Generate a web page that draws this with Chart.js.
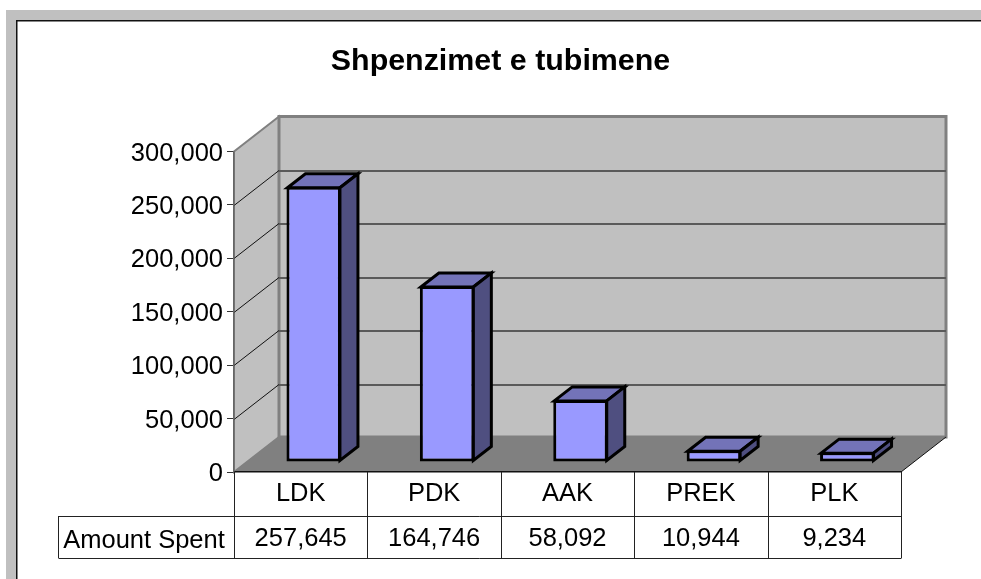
<!DOCTYPE html>
<html>
<head>
<meta charset="utf-8">
<title>Shpenzimet e tubimene</title>
<script src="https://cdn.jsdelivr.net/npm/chart.js@4/dist/chart.umd.min.js"></script>
<style>
  html, body { margin: 0; padding: 0; background: #fff; overflow: hidden; }
  #wrap { position: relative; width: 981px; height: 579px; }
</style>
</head>
<body>
<div id="wrap"><canvas id="chart" width="981" height="579"></canvas></div>
<script>
const chartTitle = 'Shpenzimet e tubimene';
const categories = ['LDK', 'PDK', 'AAK', 'PREK', 'PLK'];
const seriesName = 'Amount Spent';
const amountSpent = [257645, 164746, 58092, 10944, 9234];
const yMax = 300000;
const yStep = 50000;

const FONT = '"Liberation Sans", Arial, sans-serif';
const fmt = v => v.toLocaleString('en-US');

// depth of the fake 3d box, and of a bar inside it
const DEPTH_X = 45, DEPTH_Y = 35;
const BAR_SHIFT_X = 13, BAR_SHIFT_Y = 10;
const BAR_DEPTH_X = 18, BAR_DEPTH_Y = 14;

function poly(ctx, pts, fill, stroke, lw) {
  ctx.beginPath();
  pts.forEach((p, i) => i ? ctx.lineTo(p[0], p[1]) : ctx.moveTo(p[0], p[1]));
  ctx.closePath();
  if (fill) { ctx.fillStyle = fill; ctx.fill(); }
  if (stroke) { ctx.strokeStyle = stroke; ctx.lineWidth = lw; ctx.stroke(); }
}

const box3d = {
  id: 'box3d',
  beforeDraw(chart) {
    const { ctx, chartArea: a, scales: { y } } = chart;
    ctx.save();
    // page frame
    ctx.fillStyle = '#fff';
    ctx.fillRect(0, 0, chart.width, chart.height);
    ctx.fillStyle = '#c0c0c0';
    ctx.fillRect(6, 10, chart.width - 6, chart.height - 10);
    ctx.fillStyle = '#fff';
    ctx.fillRect(17, 21, chart.width - 17, chart.height - 21);
    ctx.fillStyle = '#111';
    ctx.fillRect(16, 20, chart.width - 16, 1.5);
    ctx.fillRect(16, 20, 1.5, chart.height - 20);

    const l = a.left, r = a.right, t = a.top, b = a.bottom;
    const dx = DEPTH_X, dy = DEPTH_Y;
    // side wall, back wall, floor
    poly(ctx, [[l, t], [l + dx, t - dy], [l + dx, b - dy], [l, b]], '#c0c0c0', '#808080', 2);
    poly(ctx, [[l + dx, t - dy], [r + dx, t - dy], [r + dx, b - dy], [l + dx, b - dy]], '#c0c0c0', '#808080', 3);

    // gridlines run along the side wall and across the back wall
    y.ticks.forEach(tick => {
      if (tick.value === 0 || tick.value === yMax) return;
      const py = Math.round(y.getPixelForValue(tick.value));
      ctx.strokeStyle = '#111';
      ctx.lineWidth = 1;
      ctx.beginPath();
      ctx.moveTo(l, py + 0.5);
      ctx.lineTo(l + dx, py + 0.5 - dy);
      ctx.stroke();
      ctx.strokeStyle = '#5a5a5a';
      ctx.lineWidth = 2;
      ctx.beginPath();
      ctx.moveTo(l + dx, py + 1 - dy);
      ctx.lineTo(r + dx, py + 1 - dy);
      ctx.stroke();
    });

    poly(ctx, [[l, b], [l + dx, b - dy], [r + dx, b - dy], [r, b]], '#808080');
    ctx.strokeStyle = '#111';
    ctx.lineWidth = 1;
    ctx.beginPath();
    ctx.moveTo(r, b);
    ctx.lineTo(r + dx, b - dy);
    ctx.stroke();
    ctx.restore();
  },
  beforeDatasetsDraw(chart) {
    const { ctx } = chart;
    ctx.save();
    ctx.translate(BAR_SHIFT_X, -BAR_SHIFT_Y);
    chart.getDatasetMeta(0).data.forEach(bar => {
      const p = bar.getProps(['x', 'y', 'base', 'width'], true);
      const l = p.x - p.width / 2 + 1, r = p.x + p.width / 2 - 1;
      const t = p.y + 1, b = p.base - 1;
      const dx = BAR_DEPTH_X, dy = BAR_DEPTH_Y;
      ctx.lineJoin = 'miter';
      poly(ctx, [[l, t], [l + dx, t - dy], [r + dx, t - dy], [r, t]], '#7373b8', '#000', 3);
      poly(ctx, [[r, t], [r + dx, t - dy], [r + dx, b - dy], [r, b]], '#4f4f80', '#000', 3);
    });
  },
  afterDatasetsDraw(chart) {
    chart.ctx.restore();
  },
  afterDraw(chart) {
    const { ctx, chartArea: a, scales: { x } } = chart;
    const rowMid = 516, rowEnd = 558, labelLeft = 58;
    const half = (x.getPixelForTick(1) - x.getPixelForTick(0)) / 2;
    ctx.save();
    ctx.strokeStyle = '#222';
    ctx.lineWidth = 1;
    ctx.beginPath();
    categories.forEach((c, i) => {
      const px = Math.round(x.getPixelForTick(i) - half) + 0.5;
      ctx.moveTo(px, a.bottom);
      ctx.lineTo(px, rowEnd);
    });
    ctx.moveTo(a.right + 0.5, a.bottom);
    ctx.lineTo(a.right + 0.5, rowEnd + 0.5);
    ctx.moveTo(labelLeft + 0.5, rowMid + 0.5);
    ctx.lineTo(a.right, rowMid + 0.5);
    ctx.moveTo(labelLeft + 0.5, rowEnd + 0.5);
    ctx.lineTo(a.right, rowEnd + 0.5);
    ctx.moveTo(labelLeft + 0.5, rowMid);
    ctx.lineTo(labelLeft + 0.5, rowEnd);
    ctx.stroke();

    ctx.fillStyle = '#000';
    ctx.font = '25.5px ' + FONT;
    ctx.textBaseline = 'middle';
    ctx.textAlign = 'center';
    amountSpent.forEach((v, i) => ctx.fillText(fmt(v), x.getPixelForTick(i), 539));
    ctx.fillText(seriesName, 144, 541);
    ctx.restore();
  }
};

new Chart(document.getElementById('chart'), {
  type: 'bar',
  data: {
    labels: categories,
    datasets: [{
      label: seriesName,
      data: amountSpent,
      backgroundColor: '#9999ff',
      borderColor: '#000',
      borderWidth: 3,
      borderSkipped: false,
      barPercentage: 0.4085,
      categoryPercentage: 1,
      clip: false
    }]
  },
  plugins: [box3d],
  options: {
    responsive: false,
    animation: false,
    layout: { padding: { left: 100, right: 80, top: 0, bottom: 0 } },
    plugins: {
      legend: { display: false },
      tooltip: { enabled: false },
      title: {
        display: true,
        text: chartTitle,
        color: '#000',
        font: { family: FONT, size: 30.4, weight: 'bold' },
        padding: { top: 43, bottom: 72 }
      }
    },
    scales: {
      x: {
        grid: { display: false },
        border: { display: true, color: '#111', width: 1.5 },
        ticks: { color: '#000', font: { family: FONT, size: 25.5 }, padding: -1, maxRotation: 0 },
        afterFit(scale) { scale.height = 107; }
      },
      y: {
        min: 0,
        max: yMax,
        ticks: {
          stepSize: yStep,
          color: '#000',
          padding: 4,
          labelOffset: 2,
          font: { family: FONT, size: 25.5 },
          callback: v => fmt(v)
        },
        grid: { drawOnChartArea: false, tickLength: 7, color: '#333', lineWidth: 1 },
        border: { display: true, color: '#666', width: 1.5 },
        afterFit(scale) { scale.width = 134; }
      }
    }
  }
});
</script>
</body>
</html>
